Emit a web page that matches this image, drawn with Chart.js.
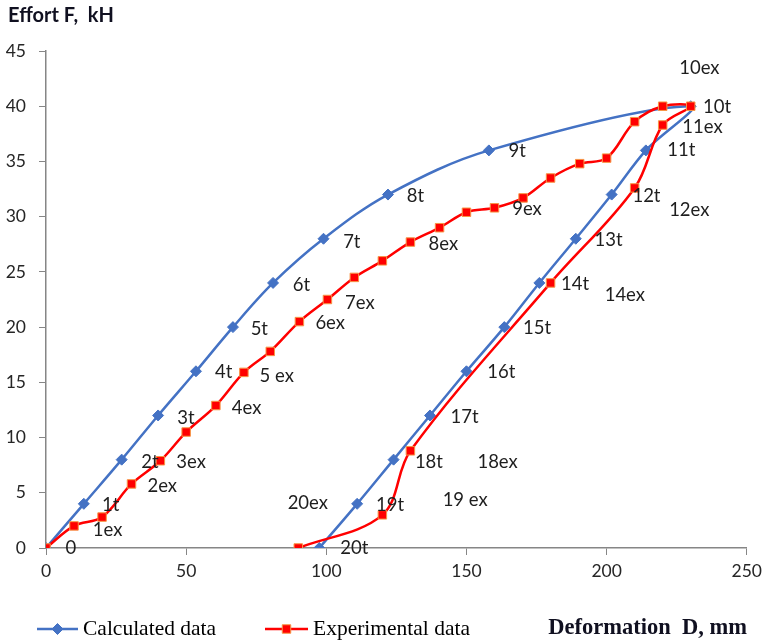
<!DOCTYPE html>
<html>
<head>
<meta charset="utf-8">
<script src="https://cdn.jsdelivr.net/npm/chart.js@4.4.0/dist/chart.umd.min.js"></script>
<style>
html, body { margin: 0; padding: 0; background: #fff; }
#wrap { width: 768px; height: 643px; position: relative; }
</style>
</head>
<body>
<div id="wrap"><canvas id="chart" width="768" height="643"></canvas></div>
<script>
// calculated (theory) loading / unloading curve
var calcX = [0, 13.5, 27, 40, 53.5, 66.7, 81, 99, 122, 158, 230, 214, 201.8, 189, 176, 163.5, 150, 137, 124, 111, 97.5];
var calcY = [0, 4, 8, 12, 16, 20, 24, 28, 32, 36, 40, 36, 32, 28, 24, 20, 16, 12, 8, 4, 0];

// experimental curve
var expX = [0, 10, 20, 30.5, 40.8, 50, 60.6, 70.6, 80, 90.4, 100.4, 110, 120, 130, 140.4, 150, 160, 170.2, 180, 190.4, 200, 210, 220, 230, 220, 210, 180, 130, 120, 90];
var expY = [0, 2, 2.8, 5.8, 7.9, 10.5, 12.9, 15.9, 17.8, 20.5, 22.5, 24.5, 26, 27.7, 29, 30.4, 30.8, 31.7, 33.5, 34.8, 35.3, 38.6, 40, 40, 38.3, 32.6, 24, 8.8, 3, 0];

// point names written on the plot, anchored in data units (left edge of text)
var noteText = ['0', '1t', '1ex', '2t', '2ex', '3ex', '3t', '4ex', '4t', '5 ex', '5t', '6ex', '6t', '7ex', '7t', '8ex', '8t', '9t', '9ex',
                '10ex', '10t', '11ex', '11t', '12t', '12ex', '13t', '14t', '14ex', '15t', '16t', '17t', '18t', '18ex', '19t', '19 ex', '20ex', '20t'];
var noteX = [7, 20, 16.7, 34, 36.2, 46.5, 46.8, 66.3, 60.3, 76.2, 73, 96.1, 88, 106.7, 106, 136.5, 128.7, 165, 166.3,
             225.9, 234.4, 227, 221.6, 209.2, 222.3, 195.7, 183.7, 199.3, 170.2, 157.4, 144.3, 131.6, 153.9, 117.7, 141.5, 86.2, 105];
var noteY = [0, 3.9, 1.6, 7.8, 5.6, 7.8, 11.8, 12.7, 15.9, 15.6, 19.8, 20.4, 23.8, 22.2, 27.7, 27.5, 31.9, 35.9, 30.7,
             43.5, 39.9, 38.1, 36, 31.9, 30.6, 27.9, 23.9, 22.9, 19.9, 15.9, 11.9, 7.8, 7.8, 3.9, 4.3, 4.1, 0];

var xTicks = [0, 50, 100, 150, 200, 250];
var yTicks = [0, 5, 10, 15, 20, 25, 30, 35, 40, 45];

var seriesNames = ['Calculated data', 'Experimental data'];

function toPoints(xs, ys) {
    return xs.map(function(x, i) { return { x: x, y: ys[i] }; });
}

var extras = {
    id: 'extras',
    afterDatasetsDraw: function(chart) {
        var ctx = chart.ctx;
        var sx = chart.scales.x, sy = chart.scales.y;
        ctx.save();

        // point names
        ctx.font = '18.5px Lato';
        ctx.fillStyle = '#1e1e1e';
        ctx.textAlign = 'left';
        ctx.textBaseline = 'middle';
        noteText.forEach(function(t, i) {
            ctx.fillText(t, sx.getPixelForValue(noteX[i]), sy.getPixelForValue(noteY[i]));
        });

        // axis titles
        ctx.fillStyle = '#101020';
        ctx.font = 'bold 20px Lato';
        ctx.fillText('Effort F,  kH', 8, 16);
        ctx.font = 'bold 22.5px "Liberation Serif"';
        ctx.textAlign = 'right';
        ctx.fillText('Deformation  D, mm', 747, 628);

        // legend
        var items = [
            { x0: 37, x1: 78, ds: chart.data.datasets[0] },
            { x0: 265, x1: 308, ds: chart.data.datasets[1] }
        ];
        items.forEach(function(it, i) {
            var y = 629;
            ctx.strokeStyle = it.ds.borderColor;
            ctx.lineWidth = 2.5;
            ctx.beginPath();
            ctx.moveTo(it.x0, y);
            ctx.lineTo(it.x1, y);
            ctx.stroke();
            var mx = (it.x0 + it.x1) / 2;
            ctx.fillStyle = it.ds.pointBackgroundColor;
            ctx.strokeStyle = it.ds.pointBorderColor;
            ctx.lineWidth = it.ds.pointBorderWidth;
            Chart.helpers.drawPoint(ctx, {
                pointStyle: it.ds.pointStyle,
                radius: it.ds.pointRadius,
                borderWidth: it.ds.pointBorderWidth
            }, mx, y);
            ctx.fillStyle = '#000';
            ctx.font = '21.5px "Liberation Serif"';
            ctx.textAlign = 'left';
            ctx.fillText(seriesNames[i], it.x1 + 5, y);
        });
        ctx.restore();
    }
};

new Chart(document.getElementById('chart'), {
    type: 'scatter',
    data: {
        datasets: [{
            label: seriesNames[0],
            data: toPoints(calcX, calcY),
            showLine: true,
            borderColor: '#4472C4',
            borderWidth: 2.5,
            tension: 0.35,
            pointStyle: 'rectRot',
            pointRadius: 5.5,
            pointBackgroundColor: '#4472C4',
            pointBorderColor: '#4472C4',
            pointBorderWidth: 1,
            order: 2
        }, {
            label: seriesNames[1],
            data: toPoints(expX, expY),
            showLine: true,
            borderColor: '#FF0000',
            borderWidth: 2.5,
            tension: 0.35,
            pointStyle: 'rect',
            pointRadius: 6,
            pointBackgroundColor: '#FF0000',
            pointBorderColor: '#F79646',
            pointBorderWidth: 1,
            order: 1
        }]
    },
    options: {
        responsive: false,
        animation: false,
        devicePixelRatio: 1,
        layout: { padding: { left: 0, top: 51, right: 17, bottom: 55 } },
        plugins: {
            legend: { display: false },
            tooltip: { enabled: false }
        },
        scales: {
            x: {
                type: 'linear',
                min: 0, max: 250,
                afterBuildTicks: function(s) { s.ticks = xTicks.map(function(v) { return { value: v }; }); },
                afterFit: function(s) { s.height = 40; },
                ticks: { color: '#262626', font: { family: 'Lato', size: 17.5 }, padding: 6 },
                grid: { drawOnChartArea: false, drawTicks: true, tickLength: 7, color: '#868686' },
                border: { display: true, color: '#868686', width: 1.5 }
            },
            y: {
                type: 'linear',
                min: 0, max: 45,
                afterBuildTicks: function(s) { s.ticks = yTicks.map(function(v) { return { value: v }; }); },
                afterFit: function(s) { s.width = 46; },
                ticks: { color: '#262626', font: { family: 'Lato', size: 17.5 }, padding: 13 },
                grid: { drawOnChartArea: false, drawTicks: true, tickLength: 7, color: '#868686' },
                border: { display: true, color: '#868686', width: 1.5 }
            }
        }
    },
    plugins: [extras]
});
</script>
</body>
</html>
